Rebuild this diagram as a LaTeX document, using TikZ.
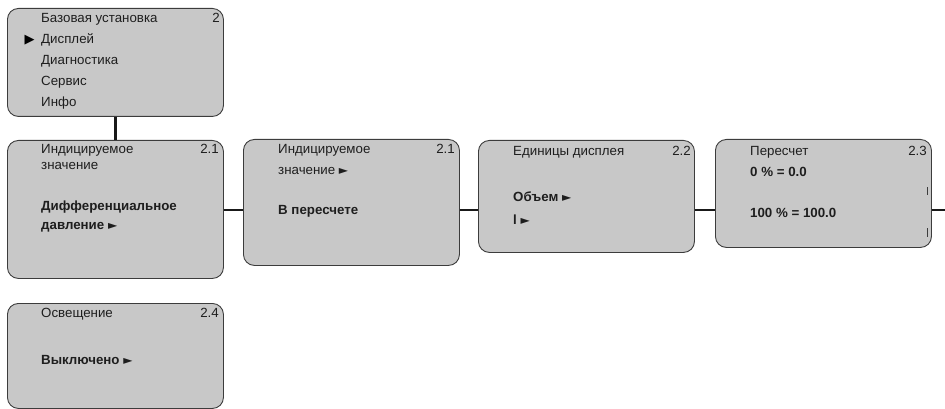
\documentclass[tikz,border=0pt]{standalone}
\usepackage{fontspec}
\setmainfont{Liberation Sans}
\newfontfamily\symfont{DejaVu Sans}
\definecolor{boxfill}{RGB}{200,200,200}
\definecolor{boxline}{RGB}{60,60,60}
\definecolor{txt}{RGB}{30,30,30}
\newcommand{\ptrglyph}{{\symfont\mdseries\fontsize{12}{12}\selectfont ►}}
\begin{document}
\begin{tikzpicture}[x=1pt,y=-1pt,
  menubox/.style={draw=boxline, line width=0.9pt, fill=boxfill, rounded corners=11pt, inner sep=0pt, anchor=north west},
  lbl/.style={anchor=base west, inner sep=0pt, text=txt, font=\fontsize{13.3}{15}\selectfont},
  blbl/.style={lbl, font=\fontsize{13.3}{15}\selectfont\bfseries},
  num/.style={anchor=base east, inner sep=0pt, text=txt, font=\fontsize{13.3}{15}\selectfont},
  conn/.style={draw=black!90, line width=2.2pt}]
\useasboundingbox (0,0) rectangle (945,409);
% boxes
\node[menubox, minimum width=216pt, minimum height=108pt] (b1) at (7,8) {};
\node[menubox, minimum width=216pt, minimum height=138pt] (b2) at (7,140) {};
\node[menubox, minimum width=216pt, minimum height=126pt] (b3) at (243,139) {};
\node[menubox, minimum width=216pt, minimum height=112pt] (b4) at (478,140) {};
\node[menubox, minimum width=216pt, minimum height=108pt] (b5) at (715,139) {};
\node[menubox, minimum width=216pt, minimum height=105pt] (b6) at (7,303) {};
% connectors
\coordinate (row) at (0,210);
\coordinate (outend) at (945,210);
\draw[conn] (b1.south) -- (b2.north);
\draw[conn] (b2.east|-row) -- (b3.west|-row);
\draw[conn] (b3.east|-row) -- (b4.west|-row);
\draw[conn] (b4.east|-row) -- (b5.west|-row);
\draw[conn] (b5.east|-row) -- (outend);
% box 1
\node[lbl] (t11) at (41,22.8) {Базовая установка};
\node[num] (n1) at (220,22.8) {2};
\node[anchor=base west, inner sep=0pt, text=black, font=\symfont\fontsize{13}{13}\selectfont] (m1) at (24.5,43.8) {▶};
\node[lbl] (t12) at (41,43.8) {Дисплей};
\node[lbl] (t13) at (41,64.8) {Диагностика};
\node[lbl] (t14) at (41,85.8) {Сервис};
\node[lbl] (t15) at (41,106.8) {Инфо};
% box 2
\node[lbl] (t21) at (41,153.8) {Индицируемое};
\node[num] (n2) at (219,153.8) {2.1};
\node[lbl] (t22) at (41,169.8) {значение};
\node[blbl] (t23) at (41,210.8) {Дифференциальное};
\node[blbl] (t24) at (41,229.8) {давление \ptrglyph};
% box 3
\node[lbl] (t31) at (278,153.8) {Индицируемое};
\node[num] (n3) at (455,153.8) {2.1};
\node[lbl] (t32) at (278,174.8) {значение \ptrglyph};
\node[blbl] (t33) at (278,214.8) {В пересчете};
% box 4
\node[lbl] (t41) at (513,155.8) {Единицы дисплея};
\node[num] (n4) at (691,155.8) {2.2};
\node[blbl] (t42) at (513,201.8) {Объем \ptrglyph};
\node[blbl] (t43) at (513,224.8) {l \ptrglyph};
% box 5
\node[lbl] (t51) at (750,155.8) {Пересчет};
\node[num] (n5) at (927,155.8) {2.3};
\node[blbl] (t52) at (750,176.8) {0 \% = 0.0};
\node[blbl] (t53) at (750,217.8) {100 \% = 100.0};
\draw[boxline, line width=0.8pt] (927.5,187) -- (927.5,195);
\draw[boxline, line width=0.8pt] (927.5,228) -- (927.5,237);
% box 6
\node[lbl] (t61) at (41,317.8) {Освещение};
\node[num] (n6) at (219,317.8) {2.4};
\node[blbl] (t62) at (41,364.8) {Выключено \ptrglyph};
\end{tikzpicture}
\end{document}
